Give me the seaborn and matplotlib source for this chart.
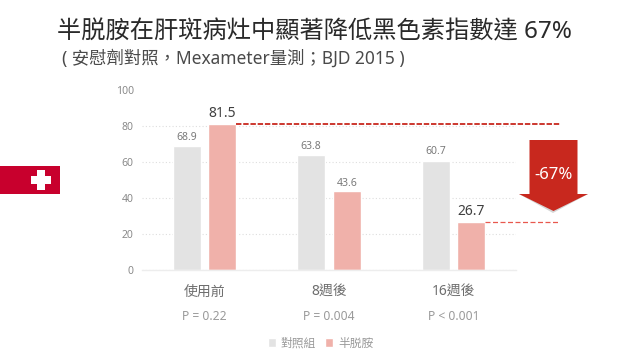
import pandas as pd
import matplotlib.pyplot as plt
import seaborn as sns
from matplotlib.patches import Polygon, Rectangle
from matplotlib.transforms import blended_transform_factory

# Values
timepoints = ['使用前', '8週後', '16週後']
p_values = ['P = 0.22', 'P = 0.004', 'P < 0.001']
control = [68.9, 63.8, 60.7]
treated = [81.5, 43.6, 26.7]
series_names = ['對照組', '半脱胺']
y_ticks = [0, 20, 40, 60, 80, 100]
title = '半脱胺在肝斑病灶中顯著降低黑色素指數達 67%'
subtitle = '( 安慰劑對照，Mexameter量測；BJD 2015 )'
change_label = '-67%'

GREY = '#E3E3E3'
PINK = '#F0B1AA'
RED = '#C8281E'

sns.set_theme(style='white')
plt.rcParams['font.family'] = ['Noto Sans', 'Noto Sans CJK TC', 'DejaVu Sans']

df = pd.DataFrame({
    'time': timepoints * 2,
    'group': [series_names[0]] * 3 + [series_names[1]] * 3,
    'value': control + treated,
})


# pixel position in the 640x360 image -> figure fraction
def px(x, y):
    return x / 640, 1 - y / 360


fig = plt.figure(figsize=(6.4, 3.6), dpi=100)
ax = fig.add_axes([142 / 640, 1 - 269.5 / 360, 374 / 640, 179 / 360])

sns.barplot(data=df, x='time', y='value', hue='group', palette=[GREY, PINK],
            width=0.57, gap=0.21, saturation=1, ax=ax)

ax.set_ylim(0, 100)
ax.set_xlim(-0.5, 2.5)
ax.set_yticks(y_ticks)
ax.set_xlabel('')
ax.set_ylabel('')
ax.tick_params(axis='y', labelsize=7.5, labelcolor='#8A8A8A', length=0, pad=6)
ax.tick_params(axis='x', labelsize=10, labelcolor='#6E6E6E', length=0, pad=11)
ax.grid(axis='y', color='#DEDEDE', linestyle=(0, (1, 2)), linewidth=0.8)
ax.set_axisbelow(True)
for name in ['top', 'left', 'right']:
    ax.spines[name].set_visible(False)
ax.spines['bottom'].set_color('#EDEDED')
ax.spines['bottom'].set_linewidth(1)
# hide the 100 gridline, the reference has none there
ax.yaxis.get_gridlines()[-1].set_visible(False)

# bar labels, the two highlighted ones are bigger
ctrl_bars, treat_bars = ax.containers[0], ax.containers[1]
ax.bar_label(ctrl_bars, labels=[f'{v:.1f}' for v in control], fontsize=7.5, color='#7A7A7A', padding=2.5)
for i, bar in enumerate(treat_bars):
    big = i != 1
    ax.annotate(f'{treated[i]:.1f}', (bar.get_x() + bar.get_width() / 2, treated[i]),
                xytext=(0, 2), textcoords='offset points', ha='center', va='bottom',
                fontsize=10 if big else 7.5, color='#404040' if big else '#7A7A7A')

# P values under the category labels
for i, p in enumerate(p_values):
    ax.annotate(p, (i, 0), xycoords=('data', 'axes fraction'), xytext=(0, -33.5),
                textcoords='offset points', ha='center', va='center',
                fontsize=8.7, color='#9A9A9A', annotation_clip=False)

# dashed reference lines running out to the arrow
trans = blended_transform_factory(fig.transFigure, ax.transData)
x_end = 560 / 640
fig_x = fig.transFigure.inverted()
first = treat_bars[0]
last = treat_bars[2]
x0 = fig_x.transform(ax.transData.transform((first.get_x() + first.get_width(), 0)))[0]
x1 = fig_x.transform(ax.transData.transform((last.get_x() + last.get_width(), 0)))[0]
ax.plot([x0, x_end], [treated[0] - 0.4] * 2, transform=trans, color=RED, lw=1.3,
        ls=(0, (3, 1)), clip_on=False)
ax.plot([x1, x_end], [treated[2]] * 2, transform=trans, color='#E8584E', lw=0.9,
        ls=(0, (4, 2)), clip_on=False)

# big down arrow
shadow = [px(519, 194), px(553, 213), px(588, 194)]
fig.patches.append(Polygon(shadow, closed=True, transform=fig.transFigure,
                           facecolor='#B9B9B9', edgecolor='none', alpha=0.6))
arrow = [px(529.5, 140), px(577.5, 140), px(577.5, 194), px(588, 194),
         px(553.5, 211), px(519, 194), px(529.5, 194)]
fig.patches.append(Polygon(arrow, closed=True, transform=fig.transFigure,
                           facecolor=RED, edgecolor='none'))
fig.text(*px(553.5, 175), change_label, color='white', fontsize=12, ha='center', va='center')

# flag on the left edge
fig.patches.append(Rectangle(px(0, 194), 60 / 640, 28 / 360, transform=fig.transFigure,
                             facecolor='#C8002D', edgecolor='none'))
fig.patches.append(Rectangle(px(30.5, 184), 20 / 640, 8 / 360, transform=fig.transFigure,
                             facecolor='white', edgecolor='none'))
fig.patches.append(Rectangle(px(36.5, 190), 8 / 640, 20 / 360, transform=fig.transFigure,
                             facecolor='white', edgecolor='none'))

fig.text(*px(57, 32), title, fontsize=17.45, color='#2A2A2A', ha='left', va='center')
fig.text(*px(62, 58), subtitle, fontsize=12.5, color='#4A4A4A', ha='left', va='center')

# legend
leg = ax.legend(loc='center', bbox_to_anchor=(320.5 / 640, 1 - 343 / 360),
                bbox_transform=fig.transFigure, ncol=2, frameon=False, fontsize=8.5,
                handlelength=0.7, handleheight=0.7, handletextpad=0.4, columnspacing=0.8)
for t in leg.get_texts():
    t.set_color('#9A9A9A')

fig.savefig('out.png', dpi=100)
